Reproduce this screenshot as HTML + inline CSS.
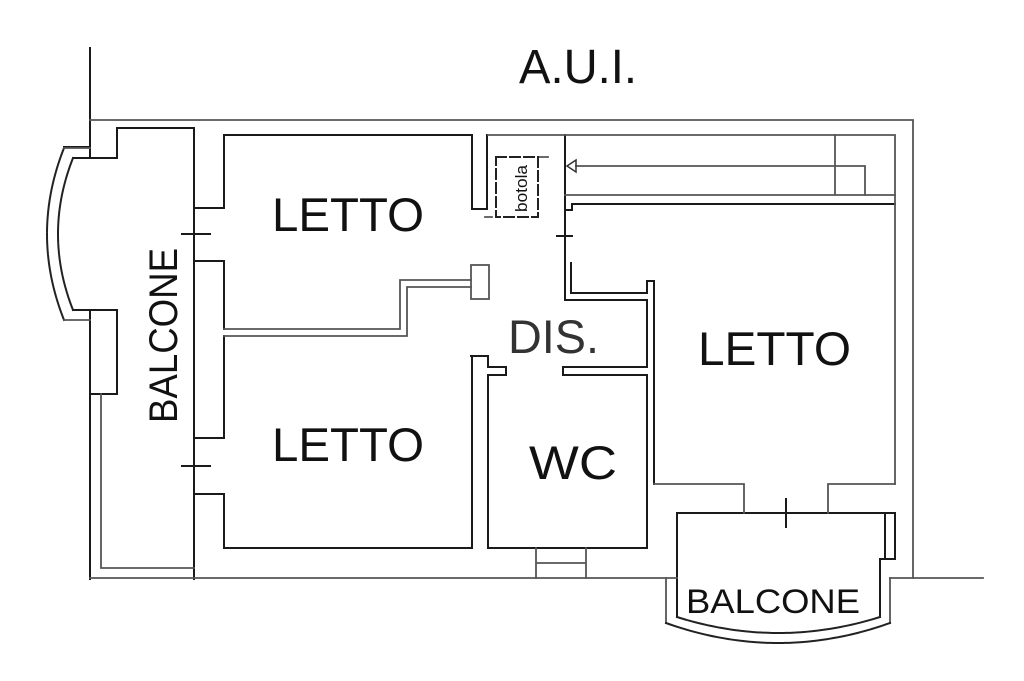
<!DOCTYPE html>
<html><head><meta charset="utf-8"><style>
html,body{margin:0;padding:0;background:#fff;}
svg{display:block;}
text{font-family:"Liberation Sans",sans-serif;fill:#111;}
</style></head><body>
<svg width="1024" height="681" viewBox="0 0 1024 681" xmlns="http://www.w3.org/2000/svg">
<g fill="none" stroke-linecap="square">
<!-- dark lines -->
<g stroke="#1a1a1a" stroke-width="2">
<path d="M90,48V158 M90,310V579"/>
<path d="M194,128V579"/>
<path d="M117,128H194 M117,128V158 M73,158H117 M64,147H90"/>
<path d="M73,310H117 M117,310V394 M90,394H117"/>
<path d="M224,135H472 M224,135V208 M194,208H224"/>
<path d="M194,261H224 M224,261V329 M224,336V438 M194,438H224"/>
<path d="M194,494H224 M224,494V548 M224,548H472 M472,356V548"/>
<path d="M472,135V209 M472,209H487 M487,135V209"/>
<path d="M471,356H488 M488,356V367 M488,367H506 M506,367V375 M488,375H506 M488,375V548 M488,548H647"/>
<path d="M563,367H647 M563,375H647 M563,367V375 M647,300V367 M647,375V548"/>
<path d="M565,135V300 M565,300H647 M571,263V293 M571,293H647 M647,281V293 M647,281H654 M654,281V484"/>
<path d="M565,210H572 M572,204V210 M572,204H895"/>
<path d="M677,513H895 M677,513V617 M885,513V559 M895,513V559 M880,559H895 M880,559V617"/>
<path d="M786,499V527"/>
<path d="M182,234H210 M182,466H210 M557,236H572"/>
</g>
<!-- grey lines -->
<g stroke="#555" stroke-width="1.8">
<path d="M90,120H913 M913,120V578"/>
<path d="M90,578H677 M890,578H983"/>
<path d="M101,394V568 M101,568H194"/>
<path d="M224,329H400 M400,280V329 M400,280H471 M224,336H407 M407,287V336 M407,287H471"/>
<rect x="471" y="265" width="18" height="34"/>
<path d="M488,135H895 M895,135V484"/>
<path d="M835,135V195 M565,195H895"/>
<path d="M576,166H865 M865,166V195"/>
<path d="M654,484H744 M744,484V513 M828,484H895 M828,484V513"/>
<path d="M666,578V623 M890,578V623"/>
<path d="M536,548V578 M586,548V578 M536,563H586"/>
<path d="M538,157H548 M485,217H492"/>
</g>
<polygon points="567,166 576,160 576,172" stroke="#333" stroke-width="1.5"/>
<!-- dashed -->
<g stroke="#222" stroke-width="2" stroke-dasharray="9 2">
<path d="M64,148 Q30,234 64,320"/>
<path d="M73,158 Q43,234 73,310"/>
<path d="M677,617 Q778,649 880,617"/>
<path d="M666,623 Q778,663 890,623"/>
<rect x="496" y="157" width="42" height="60" stroke-dasharray="10 4"/>
</g>
<path d="M64,320H90 M64,148H90" stroke="#555" stroke-width="1.8"/>
</g>
<!-- labels -->
<text x="519" y="83" font-size="48" textLength="118" lengthAdjust="spacingAndGlyphs">A.U.I.</text>
<text x="272" y="231" font-size="47" textLength="152" lengthAdjust="spacingAndGlyphs">LETTO</text>
<text x="272" y="461" font-size="47" textLength="152" lengthAdjust="spacingAndGlyphs">LETTO</text>
<text x="698" y="365" font-size="47" textLength="153" lengthAdjust="spacingAndGlyphs">LETTO</text>
<text x="508" y="353" font-size="47" textLength="91" lengthAdjust="spacingAndGlyphs" style="fill:#333">DIS.</text>
<text x="529" y="479" font-size="47" textLength="88" lengthAdjust="spacingAndGlyphs">WC</text>
<text transform="translate(177,423) rotate(-90)" x="0" y="0" font-size="40" textLength="175" lengthAdjust="spacingAndGlyphs">BALCONE</text>
<text x="686" y="613" font-size="34" textLength="174" lengthAdjust="spacingAndGlyphs">BALCONE</text>
<text transform="translate(527,212) rotate(-90)" x="0" y="0" font-size="17" textLength="47" lengthAdjust="spacingAndGlyphs">botola</text>
</svg>
</body></html>
